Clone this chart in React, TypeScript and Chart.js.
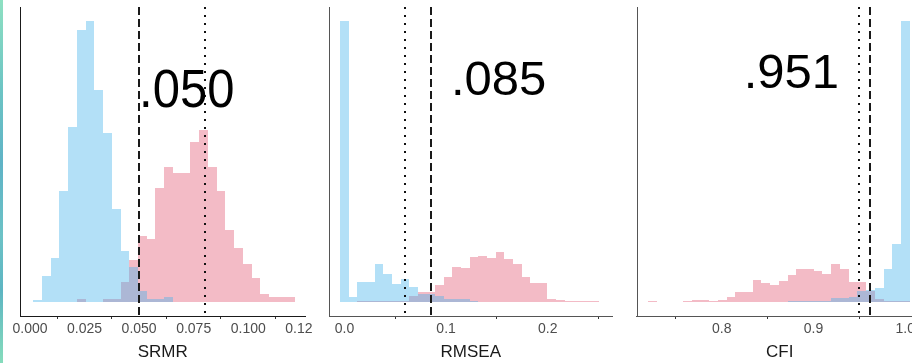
import { useEffect, useRef } from "react";
import { Chart, registerables } from "chart.js";

Chart.register(...registerables);

const FONT = '"Liberation Sans", Arial, Helvetica, sans-serif';

// ---------- DATA ----------
// SRMR histogram (bin centres, counts)
const srmrBins = [
  0.0035, 0.0075, 0.0115, 0.0155, 0.0195, 0.0235, 0.0275, 0.0315, 0.0355, 0.0395,
  0.0435, 0.0475, 0.0515, 0.0555, 0.0595, 0.0635, 0.0675, 0.0715, 0.0755, 0.0795,
  0.0835, 0.0875, 0.0915, 0.0955, 0.0995, 0.1035, 0.1075, 0.1115, 0.1155, 0.1195,
];
const srmrBlue = [
  1.7, 26, 44.3, 111, 174.3, 271, 280, 211, 168.7, 92.7,
  51, 35.3, 11, 2.7, 2.7, 5.3, 0, 0, 0, 0,
  0, 0, 0, 0, 0, 0, 0, 0, 0, 0,
];
const srmrPink = [
  0, 0, 0, 0, 0, 2.7, 0, 0, 2.7, 2.7,
  20, 41.7, 65.3, 62.7, 113.7, 134.3, 128.7, 128.7, 159.3, 171.7,
  134.3, 110.3, 72, 53.7, 38.3, 24.3, 8.3, 5.3, 5.3, 5.3,
];
const srmrTicks = [0, 0.025, 0.05, 0.075, 0.1, 0.125];
const srmrTickLabels = ["0.000", "0.025", "0.050", "0.075", "0.100", "0.125"];

// RMSEA histogram
const rmseaBins = [
  0, 0.0085, 0.017, 0.0255, 0.034, 0.0425, 0.051, 0.0595, 0.068, 0.0765,
  0.085, 0.0935, 0.102, 0.1105, 0.119, 0.1275, 0.136, 0.1445, 0.153, 0.1615,
  0.17, 0.1785, 0.187, 0.1955, 0.204, 0.2125, 0.221, 0.2295, 0.238, 0.2465,
];
const rmseaBlue = [
  280, 5, 20.3, 20.3, 38.3, 27.7, 18.3, 23.3, 15.3, 8,
  8, 6, 3, 2.7, 2.7, 1, 0, 0, 0, 0,
  0, 0, 0, 0, 0, 0, 0, 0, 0, 0,
];
const rmseaPink = [
  0, 0, 0.7, 0.7, 0.7, 0.7, 1, 1.3, 6, 10,
  10, 16.7, 25.3, 35.3, 34.3, 45, 45.7, 44.3, 49.3, 43,
  37.7, 25.3, 18.7, 18.7, 3.3, 2, 0.7, 1.3, 0.7, 0.7,
];
const rmseaTicks = [0, 0.1, 0.2];
const rmseaTickLabels = ["0.0", "0.1", "0.2"];

// CFI histogram
const cfiBins = [
  0.7245, 0.734, 0.7435, 0.753, 0.7625, 0.772, 0.7815, 0.791, 0.8005, 0.81,
  0.8195, 0.829, 0.8385, 0.848, 0.8575, 0.867, 0.8765, 0.886, 0.8955, 0.905,
  0.9145, 0.924, 0.9335, 0.943, 0.9525, 0.962, 0.9715, 0.981, 0.9905, 1.0,
];
const cfiBlue = [
  0, 0, 0, 0, 0, 0, 0, 0, 0, 0,
  0, 0, 0, 0, 0, 0, 0.7, 1, 1, 1,
  1.3, 4, 4.3, 5, 11, 12, 14.3, 32.7, 57.7, 280,
];
const cfiPink = [
  0.5, 0, 0.3, 0.3, 1, 1.7, 2.3, 1, 1.7, 5.3,
  10.3, 10.3, 21.7, 18.7, 17.3, 21, 27, 32.7, 33.3, 31,
  27.7, 37.7, 32.7, 20.3, 20.3, 11, 2.7, 1, 1, 1,
];
const cfiTicks = [0.8, 0.9, 1.0];
const cfiTickLabels = ["0.8", "0.9", "1.0"];

const axisTitles = ["SRMR", "RMSEA", "CFI"];
const cutoffLabels = [".050", ".085", ".951"];
const dashedCutoffs = [0.05, 0.085, 0.962];
const dottedCutoffs = [0.08, 0.06, 0.95];

// ---------- LAYOUT / STYLE ----------
const BLUE = "rgba(65,178,235,0.4)";
const PINK = "rgba(225,85,112,0.4)";

const panels = [
  {
    bins: srmrBins, blue: srmrBlue, pink: srmrPink, ticks: srmrTicks, tickLabels: srmrTickLabels,
    title: axisTitles[0], label: cutoffLabels[0], dashed: dashedCutoffs[0], dotted: dottedCutoffs[0],
    left: 0, width: 313, padL: 20, padR: 7.5, xMin: -0.00458, xMax: 0.12624,
    labelX: 0.05, labelY: 194, labelScaleY: 1.08, axisColor: "#1a1a1a",
  },
  {
    bins: rmseaBins, blue: rmseaBlue, pink: rmseaPink, ticks: rmseaTicks, tickLabels: rmseaTickLabels,
    title: axisTitles[1], label: cutoffLabels[1], dashed: dashedCutoffs[1], dotted: dottedCutoffs[1],
    left: 313, width: 300, padL: 16, padR: 0.5, xMin: -0.01526, xMax: 0.26378,
    labelX: 0.1048, labelY: 206, labelScaleY: 1, axisColor: "#555555",
  },
  {
    bins: cfiBins, blue: cfiBlue, pink: cfiPink, ticks: cfiTicks, tickLabels: cfiTickLabels,
    title: axisTitles[2], label: cutoffLabels[2], dashed: dashedCutoffs[2], dotted: dottedCutoffs[2],
    left: 616, width: 307, padL: 20.7, padR: 0.3, xMin: 0.70741, xMax: 1.01895,
    labelX: 0.824, labelY: 213, labelScaleY: 1, axisColor: "#555555",
  },
];

// Snap bar edges to whole pixels so adjacent histogram bins meet without seams
const snapPlugin = {
  id: "snapBars",
  afterDatasetsUpdate(chart: any) {
    chart.data.datasets.forEach((_d: any, di: number) => {
      const meta = chart.getDatasetMeta(di);
      meta.data.forEach((el: any) => {
        const l = Math.round(el.x - el.width / 2);
        const r = Math.round(el.x + el.width / 2);
        el.x = (l + r) / 2;
        el.width = r - l;
        el.y = Math.round(el.y);
        el.base = Math.round(el.base);
      });
    });
  },
};

const overlayPlugin = {
  id: "overlay",
  afterDatasetsDraw(chart: any, _args: any, opts: any) {
    const { ctx, chartArea: a, scales } = chart;
    const xs = scales.x;
    const ys = scales.y;
    ctx.save();
    // left axis line
    ctx.strokeStyle = opts.axisColor;
    ctx.lineWidth = 1;
    ctx.setLineDash([]);
    ctx.beginPath();
    const lx = Math.round(a.left) + 0.5;
    ctx.moveTo(lx, a.top);
    ctx.lineTo(lx, a.bottom + 0.5);
    ctx.stroke();

    // dotted cutoff
    const dx = Math.round(xs.getPixelForValue(opts.dotted));
    ctx.strokeStyle = "#111111";
    ctx.lineWidth = 2;
    ctx.setLineDash([2, 6]);
    ctx.beginPath();
    ctx.moveTo(dx, a.top);
    ctx.lineTo(dx, a.bottom);
    ctx.stroke();

    // dashed cutoff
    const sx = Math.round(xs.getPixelForValue(opts.dashed));
    ctx.strokeStyle = "#1a1a1a";
    ctx.lineWidth = 2;
    ctx.setLineDash([8, 4]);
    ctx.beginPath();
    ctx.moveTo(sx, a.top);
    ctx.lineTo(sx, a.bottom);
    ctx.stroke();

    // big label
    ctx.setLineDash([]);
    const tx = xs.getPixelForValue(opts.labelX);
    const ty = ys.getPixelForValue(opts.labelY);
    ctx.fillStyle = "#000000";
    ctx.font = `49px ${FONT}`;
    ctx.textAlign = "left";
    ctx.textBaseline = "alphabetic";
    ctx.translate(tx, ty);
    ctx.scale(1, opts.labelScaleY);
    ctx.fillText(opts.label, 0, 0);
    ctx.restore();
  },
};

function Panel({ p }: { p: any }) {
  const ref = useRef<HTMLCanvasElement>(null);
  useEffect(() => {
    if (!ref.current) return;
    const ymax = Math.max(...p.blue, ...p.pink);
    const chart = new Chart(ref.current, {
      type: "bar",
      data: {
        datasets: [
          {
            data: p.blue.map((y: number, i: number) => ({ x: p.bins[i], y })),
            backgroundColor: BLUE,
            borderWidth: 0,
            order: 0,
            grouped: false,
            barPercentage: 1,
            categoryPercentage: 1,
            inflateAmount: 0,
          } as any,
          {
            data: p.pink.map((y: number, i: number) => ({ x: p.bins[i], y })),
            backgroundColor: PINK,
            borderWidth: 0,
            order: 1,
            grouped: false,
            barPercentage: 1,
            categoryPercentage: 1,
            inflateAmount: 0,
          } as any,
        ],
      },
      options: {
        responsive: false,
        maintainAspectRatio: false,
        animation: false,
        layout: { padding: { left: p.padL, right: p.padR, top: 7, bottom: 0 } },
        plugins: {
          legend: { display: false },
          tooltip: { enabled: false },
          overlay: {
            axisColor: p.axisColor,
            dashed: p.dashed,
            dotted: p.dotted,
            label: p.label,
            labelX: p.labelX,
            labelY: p.labelY,
            labelScaleY: p.labelScaleY,
          },
        } as any,
        scales: {
          x: {
            type: "linear",
            min: p.xMin,
            max: p.xMax,
            offset: false,
            afterBuildTicks: (s: any) => {
              s.ticks = p.ticks.map((v: number) => ({ value: v }));
            },
            afterFit: (s: any) => {
              s.height = 47;
              s.paddingLeft = 0;
              s.paddingRight = 0;
            },
            grid: {
              display: true,
              drawOnChartArea: false,
              drawTicks: true,
              tickLength: 3,
              color: p.axisColor,
              tickColor: "#333333",
            },
            border: { display: true, color: p.axisColor, width: 1 },
            ticks: {
              autoSkip: false,
              maxRotation: 0,
              minRotation: 0,
              padding: 2,
              color: "#4d4d4d",
              font: { family: FONT, size: 14 },
              callback: (_v: any, i: number) => p.tickLabels[i],
            },
            title: {
              display: true,
              text: p.title,
              color: "#1a1a1a",
              font: { family: FONT, size: 17 },
              padding: 0,
            },
          } as any,
          y: {
            display: false,
            min: -0.05 * ymax,
            max: 1.05 * ymax,
          },
        },
      },
      plugins: [snapPlugin, overlayPlugin],
    });
    return () => chart.destroy();
  }, [p]);
  return (
    <canvas
      ref={ref}
      width={p.width}
      height={363}
      style={{ position: "absolute", left: p.left, top: 0, width: p.width, height: 363 }}
    />
  );
}

export default function App() {
  return (
    <div
      style={{
        position: "fixed",
        left: 0,
        top: 0,
        width: 912,
        height: 363,
        overflow: "hidden",
        background: "#ffffff",
      }}
    >
      {panels.map((p, i) => (
        <Panel key={i} p={p} />
      ))}
      <div
        style={{
          position: "absolute",
          left: 0,
          top: 0,
          width: 3,
          height: 363,
          background:
            "linear-gradient(to bottom, #8ee0c2 0%, #6cc4c4 25%, #5fb3c6 45%, #6cc2c6 65%, #5db5c2 80%, #86dcbc 100%)",
        }}
      />
    </div>
  );
}
